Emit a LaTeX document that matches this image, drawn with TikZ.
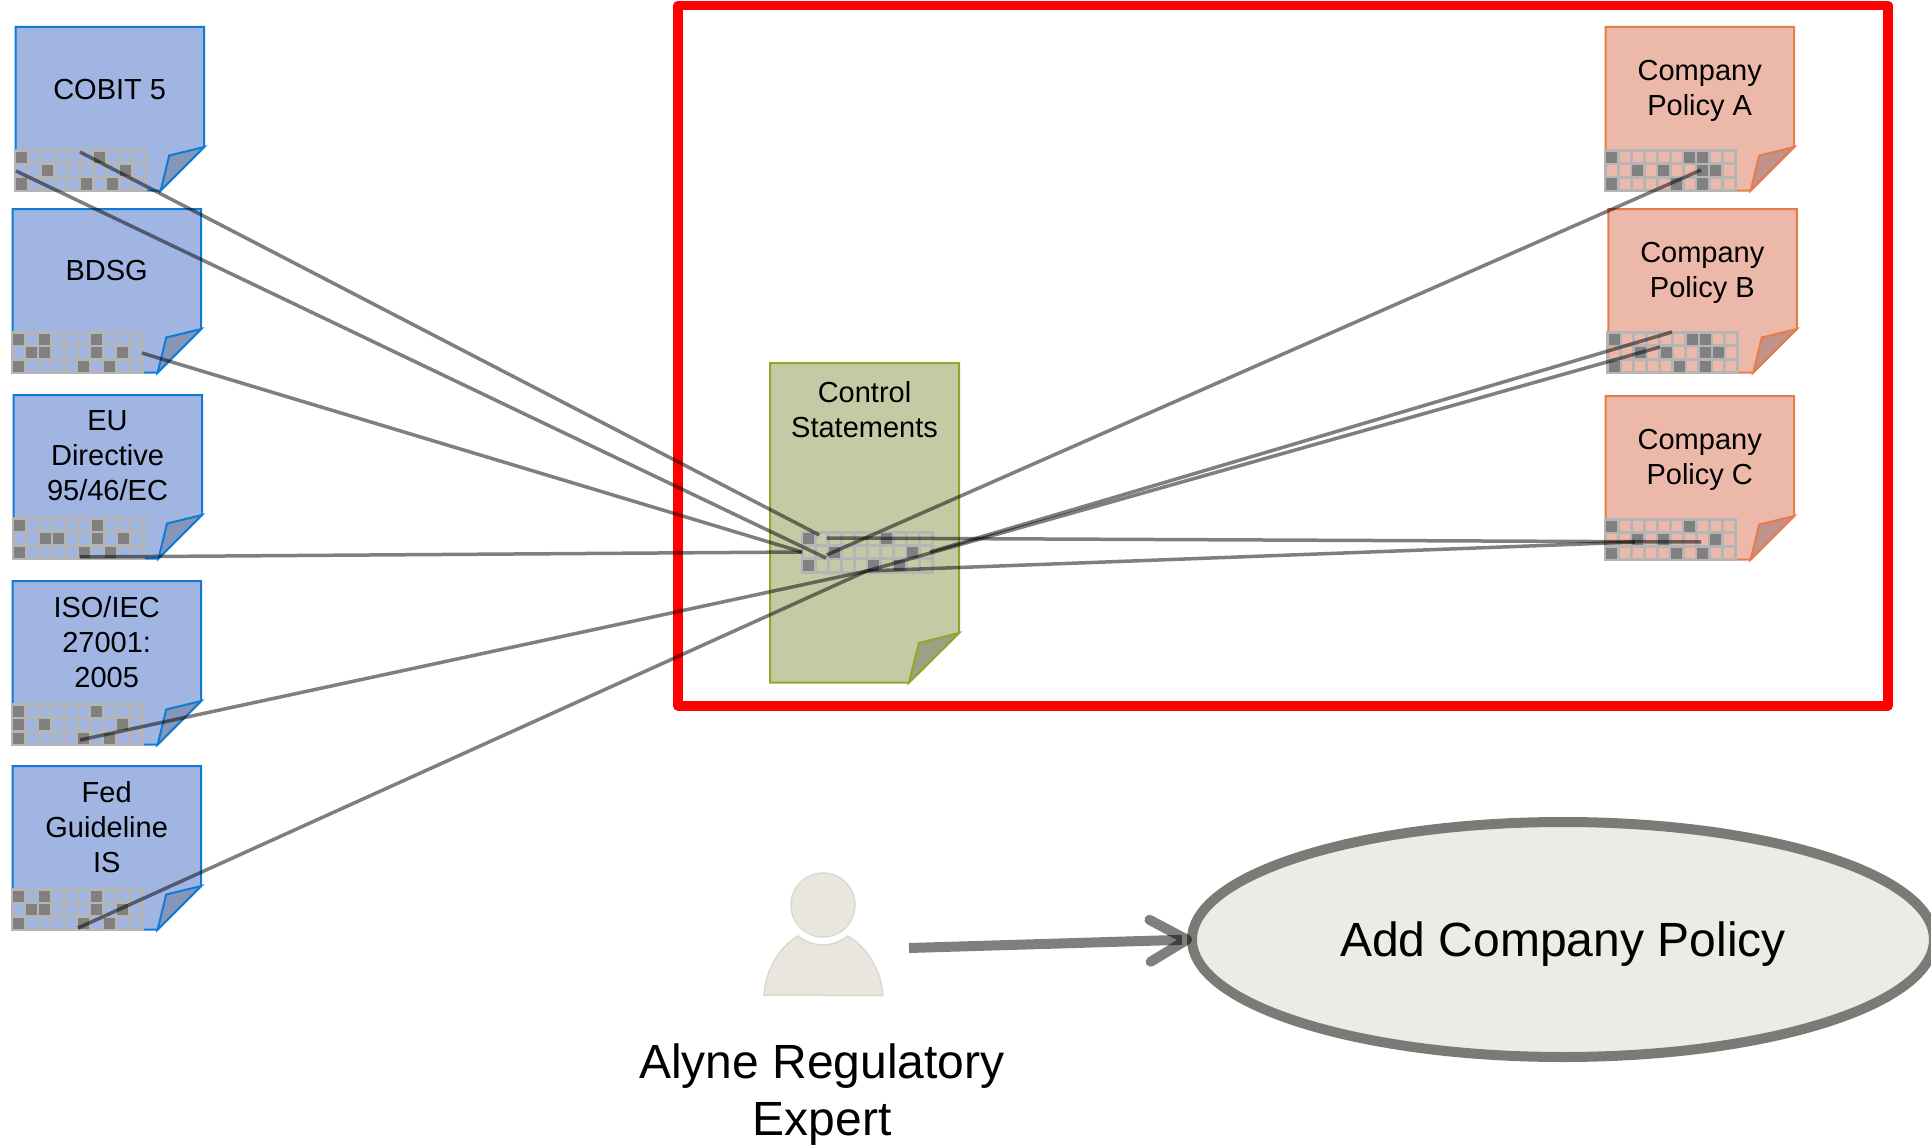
\documentclass[tikz,border=0pt]{standalone}
\usepackage{fontspec}
\setmainfont{Liberation Sans}
\usetikzlibrary{arrows.meta, shapes.geometric}

\definecolor{regfill}{HTML}{A1B5E2}
\definecolor{regline}{HTML}{0F7BD4}
\definecolor{regfold}{HTML}{8596BB}
\definecolor{polfill}{HTML}{ECB8AA}
\definecolor{polline}{HTML}{E67C4A}
\definecolor{polfold}{HTML}{C0928A}
\definecolor{ctlfill}{HTML}{C4CBA4}
\definecolor{ctlline}{HTML}{93A52D}
\definecolor{ctlfold}{HTML}{9CA184}
\definecolor{gridgray}{HTML}{B5B5B5}
\definecolor{cellgray}{HTML}{808080}
\definecolor{expertfill}{HTML}{E8E6DF}
\definecolor{expertline}{HTML}{DCD9CD}
\definecolor{usecasefill}{HTML}{ECEBE6}
\definecolor{usecaseline}{HTML}{7A7A76}

\tikzset{
    regsheet/.style={fill=regfill, draw=regline, line width=2pt},
    regcurl/.style={fill=regfold, draw=regline, line width=2pt},
    polsheet/.style={fill=polfill, draw=polline, line width=2pt},
    polcurl/.style={fill=polfold, draw=polline, line width=2pt},
    ctlsheet/.style={fill=ctlfill, draw=ctlline, line width=2pt},
    ctlcurl/.style={fill=ctlfold, draw=ctlline, line width=2pt},
    sheettext/.style={align=center, inner sep=0pt, font=\fontsize{29}{35}\selectfont},
    bigtext/.style={align=center, inner sep=0pt, font=\fontsize{48}{57}\selectfont},
    gridline/.style={draw=gridgray, line width=3pt},
    darkcell/.style={fill=cellgray},
    link/.style={draw=black, opacity=0.5, line width=3.5pt},
    expertshape/.style={fill=expertfill, draw=expertline, line width=1.5pt},
}

% dark cells are given as col/row
\newcommand{\cellgrid}[3]{
    \begin{scope}[shift={(#1,#2)}]
        \foreach \i in {0,...,10}
            \draw[gridline] (13*\i,-1.5) -- (13*\i,41.7);
        \foreach \i in {0,...,3}
            \draw[gridline] (-1.5,13.4*\i) -- (131.5,13.4*\i);
        \foreach \col/\row in {#3}
            \fill[darkcell] (13*\col+1.2,13.4*\row+1.2) rectangle +(10.6,11);
    \end{scope}
}

% name, style, left, top, text height, text, dark cells
\newcommand{\smallsheet}[7]{
    \begin{scope}[shift={(#3,#4)}]
        \draw[#2sheet] (0,0) -- (188.5,0) -- (188.5,120) -- (145,163.5) -- (0,163.5) -- cycle;
        \draw[#2curl] (145,163.5) -- (153.5,128.5) -- (188.5,120) -- cycle;
        \node[sheettext] (#1) at (94,#5) {#6};
    \end{scope}
    \cellgrid{#3-0.5}{#4+123.5}{#7}
}

\begin{document}
\begin{tikzpicture}[x=1pt, y=-1pt]
    \clip (0,0) rectangle (1931,1145);

    % regulations
    \smallsheet{cobit}{reg}{15.7}{27}{62.5}{COBIT 5}{0/0,6/0,2/1,8/1,0/2,5/2,7/2}
    \smallsheet{bdsg}{reg}{12.7}{209}{61.5}{BDSG}{0/0,2/0,6/0,1/1,2/1,6/1,8/1,0/2,5/2,7/2}
    \smallsheet{eu}{reg}{13.5}{395}{60.5}{EU\\Directive\\95/46/EC}{0/0,6/0,2/1,3/1,6/1,8/1,0/2,5/2,7/2}
    \smallsheet{iso}{reg}{12.7}{581}{61}{ISO/IEC\\27001:\\2005}{0/0,6/0,0/1,2/1,8/1,0/2,5/2,7/2}
    \smallsheet{fed}{reg}{12.7}{766}{61}{Fed\\Guideline\\IS}{0/0,2/0,6/0,1/1,2/1,6/1,8/1,0/2,5/2,7/2}

    % company policies
    \smallsheet{pola}{pol}{1605.7}{27}{64}{Company\\Policy A}{0/0,6/0,7/0,2/1,4/1,7/1,8/1,0/2,5/2,7/2}
    \smallsheet{polb}{pol}{1608.3}{209}{64}{Company\\Policy B}{0/0,6/0,7/0,2/1,4/1,7/1,8/1,0/2,5/2,7/2}
    \smallsheet{polc}{pol}{1605.7}{396}{64}{Company\\Policy C}{0/0,6/0,2/1,4/1,8/1,0/2,5/2,7/2}

    % control statements
    \draw[ctlsheet] (770,363) -- (959,363) -- (959,633) -- (909,682.5) -- (770,682.5) -- cycle;
    \draw[ctlcurl] (909,682.5) -- (919,643) -- (959,633) -- cycle;
    \node[sheettext] (ctl) at (864.5,409.5) {Control\\Statements};
    \cellgrid{802}{532}{0/0,6/0,2/1,8/1,0/2,5/2,7/2}

    \draw[draw=red, line width=9.5pt, line join=round] (678,5.5) rectangle (1888,706);

    \coordinate (i1) at (80,152);
    \coordinate (i2) at (16,171);
    \coordinate (i3) at (142,353);
    \coordinate (i4) at (80,557);
    \coordinate (i5) at (80,740);
    \coordinate (i6) at (78,928);
    \coordinate (p1) at (1701,170);
    \coordinate (p2) at (1672,332);
    \coordinate (p3) at (1660,347);
    \coordinate (p4) at (1701,542);
    \coordinate (p5) at (1635,542);
    \coordinate (k1) at (819.3,535);
    \coordinate (k2) at (826,558);
    \coordinate (k3) at (802,552);
    \coordinate (k4) at (826.7,555);
    \coordinate (k5) at (826.7,538);
    \coordinate (k6) at (866.7,571);
    \coordinate (k7) at (930,552);

    \foreach \from/\to in {i1/k1, i2/k2, i3/k3, i4/k3, i5/k6, i6/k6, p1/k4, p2/k7, p3/k6, p4/k5, p5/k6}
        \draw[link] (\from) -- (\to);

    % regulatory expert
    \node[circle, expertshape, minimum size=64pt, inner sep=0pt, outer sep=0pt] (head) at (823,905) {};
    \draw[expertshape] (798,936) .. controls (814,948) and (832,948) .. (848,936)
        .. controls (868,948) and (882,972) .. (882.7,995.5)
        -- (764,995) .. controls (765,972) and (778,948) .. (798,936) -- cycle;
    \node[bigtext] (expert) at (822,1095) {Alyne Regulatory\\Expert};

    \node[ellipse, fill=usecasefill, draw=usecaseline, line width=10pt, inner sep=0pt, outer sep=0pt,
        minimum width=742pt, minimum height=235pt] (addpolicy) at (1563,939.5) {};
    \node[bigtext] (addlabel) at (1563,944) {Add Company Policy};

    \coordinate (actor) at (909,948);
    \draw[draw=black, opacity=0.5, line width=10pt, -{Straight Barb[round, length=37pt, width=42pt, line width=10pt]}] (actor) -- (addpolicy.west);
\end{tikzpicture}
\end{document}
